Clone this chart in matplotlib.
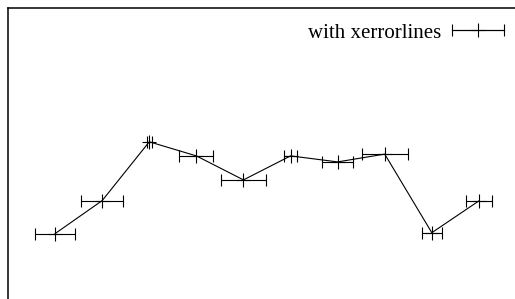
"""
Redraw the xerrorlines demo: a single series with horizontal error bars joined by lines.
Saves `out.png` next to the script.
"""

import matplotlib

matplotlib.use("Agg")
import matplotlib.pyplot as plt
from matplotlib.legend_handler import HandlerErrorbar

# data
x_vals = [1, 2, 3, 4, 5, 6, 7, 8, 9, 10]
y_vals = [2.48, 3.58, 5.54, 5.07, 4.27, 5.07, 4.87, 5.13, 2.51, 3.57]
x_err = [0.42, 0.45, 0.05, 0.36, 0.48, 0.13, 0.33, 0.49, 0.21, 0.27]
series_label = "with xerrorlines"

W_PX, H_PX, DPI = 515, 299, 100


def main() -> None:
    fig = plt.figure(figsize=(W_PX / DPI, H_PX / DPI), dpi=DPI)
    # frame runs off the right and bottom edges of the picture
    left, top = 8 / W_PX, 1 - 8 / H_PX
    width = 518 / W_PX
    bottom = -9 / H_PX
    ax = fig.add_axes([left, bottom, width, top - bottom])

    cont = ax.errorbar(
        x_vals,
        y_vals,
        xerr=x_err,
        color="black",
        linewidth=0.8,
        elinewidth=0.8,
        capsize=4.3,
        capthick=0.8,
        marker="+",
        markersize=10,
        markeredgewidth=0.8,
        label=series_label,
    )

    ax.set_xlim(0, 11)
    ax.set_ylim(0, 10)
    ax.set_xticks([])
    ax.set_yticks([])
    for side in ("left", "top"):
        ax.spines[side].set_linewidth(1.1)
    for side in ("right", "bottom"):
        ax.spines[side].set_visible(False)

    ax.legend(
        handles=[cont],
        handler_map={type(cont): HandlerErrorbar(xerr_size=1.25)},
        loc="upper right",
        bbox_to_anchor=(504 / W_PX, 1 - 23 / H_PX),
        bbox_transform=fig.transFigure,
        frameon=False,
        borderpad=0,
        borderaxespad=0,
        handlelength=2.5,
        handletextpad=0.53,
        numpoints=1,
        markerfirst=False,
        prop={"family": "Liberation Serif", "size": 15},
    )

    fig.savefig("out.png", dpi=DPI)
    plt.close(fig)


if __name__ == "__main__":
    main()
